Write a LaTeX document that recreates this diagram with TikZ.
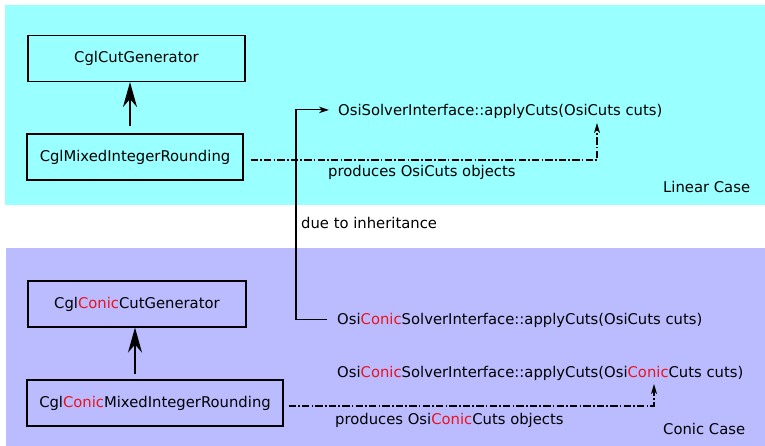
\documentclass[tikz,border=0pt]{standalone}
\usepackage{fontspec}
\setmainfont{DejaVu Sans}
\usetikzlibrary{arrows.meta}
\definecolor{cyanbg}{RGB}{153,255,255}
\definecolor{lavbg}{RGB}{187,187,255}
\definecolor{conicred}{RGB}{235,20,30}
\newcommand{\cn}{\textcolor{conicred}{Conic}}
\tikzset{
  x=1pt, y=-1pt,
  every node/.style={font=\fontsize{14.8pt}{18pt}\selectfont},
  classbox/.style={draw, line width=1.1pt, inner sep=0pt, minimum height=46pt},
  txt/.style={inner sep=0pt, anchor=base west},
  inherit/.style={line width=1.5pt, -{Stealth[length=25pt,width=14pt,inset=8pt]}},
  link/.style={line width=1.1pt, -{Stealth[length=10pt,width=6.5pt,inset=3pt]}},
  dd/.style={line width=1.1pt, dash pattern=on 7.5pt off 2.2pt on 1.5pt off 2.2pt, -{Stealth[length=10pt,width=6pt,inset=3pt]}}
}
\begin{document}
\begin{tikzpicture}
\useasboundingbox (0,0) rectangle (765,446);
\fill[cyanbg] (5,5) rectangle (765,205);
\fill[lavbg] (6,248) rectangle (765,446);

\node[classbox, minimum width=217pt] (cg) at (136.5,58.5) {CglCutGenerator};
\node[classbox, minimum width=216pt] (mir) at (135,157) {CglMixedIntegerRounding};
\node[classbox, minimum width=218pt] (ccg) at (137,304) {Cgl\cn CutGenerator};
\node[classbox, minimum width=256pt] (cmir) at (155,403) {Cgl\cn MixedIntegerRounding};

\node[txt] (apply1) at (338,116) {OsiSolverInterface::applyCuts(OsiCuts cuts)};
\node[txt] (prod1) at (328,177) {produces OsiCuts objects};
\node[txt] (lin) at (663,193) {Linear Case};
\node[txt] (due) at (301,229) {due to inheritance};
\node[txt] (apply2) at (337,324) {Osi\cn SolverInterface::applyCuts(OsiCuts cuts)};
\node[txt] (apply3) at (337,377) {Osi\cn SolverInterface::applyCuts(Osi\cn Cuts cuts)};
\node[txt] (prod2) at (335,424) {produces Osi\cn Cuts objects};
\node[txt] (con) at (663,434) {Conic Case};

\coordinate (c1) at (597,123);
\coordinate (c2) at (654,384);

\draw[inherit, shorten <=7pt] ([xshift=-5pt]mir.north) -- ([xshift=-6.5pt]cg.south);
\draw[inherit, shorten <=5pt] ([xshift=-20pt]cmir.north) -- ([xshift=-2pt]ccg.south);

\draw[link] ([xshift=-10pt]apply2.west) -- ++(-31,0) |- ([shift={(-9pt,2pt)}]apply1.west);

\draw[dd] ([shift={(7pt,-3pt)}]mir.east) -| (c1);
\draw[dd] ([shift={(5pt,-3pt)}]cmir.east) -| (c2);
\end{tikzpicture}
\end{document}
